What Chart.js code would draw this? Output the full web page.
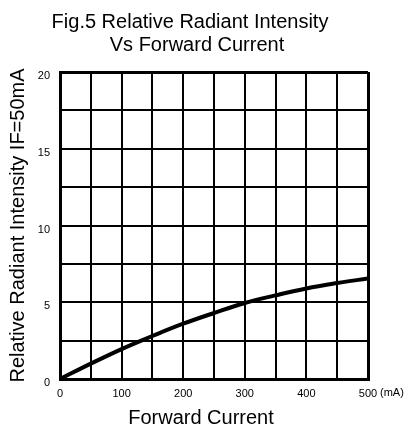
<!DOCTYPE html>
<html>
<head>
<meta charset="utf-8">
<script src="https://cdn.jsdelivr.net/npm/chart.js@4/dist/chart.umd.min.js"></script>
<style>
  html, body { margin: 0; padding: 0; background: #fff; }
  #wrap { width: 408px; height: 430px; }
</style>
</head>
<body>
<div id="wrap"><canvas id="chart"></canvas></div>
<script>
// values
const currentMA = [0, 50, 100, 150, 200, 250, 300, 350, 400, 450, 500];
const intensity = [0, 1.0, 1.95, 2.8, 3.6, 4.3, 4.95, 5.45, 5.9, 6.25, 6.55];
const xLabelEvery = 100;
const yLabelEvery = 5;

const FONT = "'Liberation Sans', Arial, sans-serif";

// titles and the unit label drawn as text on the canvas
const textPlugin = {
    id: "figText",
    afterDraw(chart) {
        const ctx = chart.ctx;
        const area = chart.chartArea;
        ctx.save();
        ctx.fillStyle = "#000";
        ctx.textAlign = "center";
        ctx.textBaseline = "alphabetic";
        ctx.font = "20px " + FONT;
        ctx.fillText("Fig.5 Relative Radiant Intensity", 190, 28);
        ctx.fillText("Vs Forward Current", 197, 51);
        ctx.fillText("Forward Current", 201, 424);
        ctx.font = "11px " + FONT;
        ctx.textAlign = "left";
        ctx.textBaseline = "top";
        ctx.fillText("(mA)", area.right + 12, area.bottom + 8);
        ctx.restore();
    }
};

const ctx = document.getElementById("chart").getContext("2d");
new Chart(ctx, {
    type: "line",
    data: {
        datasets: [{
            data: currentMA.map((x, i) => ({ x: x, y: intensity[i] })),
            borderColor: "#000",
            borderWidth: 4,
            pointRadius: 0,
            fill: false,
            tension: 0.4
        }]
    },
    options: {
        responsive: true,
        maintainAspectRatio: false,
        animation: false,
        layout: { padding: { top: 72, right: 40, left: 0, bottom: 0 } },
        plugins: { legend: { display: false }, tooltip: { enabled: false } },
        scales: {
            x: {
                type: "linear",
                min: 0,
                max: 500,
                afterFit: s => { s.height = 51; },
                grid: {
                    color: "#000",
                    lineWidth: c => (c.index === 0 || c.tick.value === 500) ? 3 : 2,
                    drawTicks: false
                },
                border: { color: "#000", width: 3 },
                ticks: {
                    stepSize: 50,
                    padding: 8,
                    color: "#000",
                    font: { family: FONT, size: 11 },
                    maxRotation: 0,
                    autoSkip: false,
                    callback: v => (v % xLabelEvery === 0 ? v : "")
                }
            },
            y: {
                min: 0,
                max: 20,
                afterFit: s => { s.width = 60; },
                grid: {
                    color: "#000",
                    lineWidth: c => (c.index === 0 || c.tick.value === 20) ? 3 : 2,
                    drawTicks: false
                },
                border: { color: "#000", width: 3 },
                ticks: {
                    stepSize: 2.5,
                    padding: 10,
                    labelOffset: 4,
                    color: "#000",
                    font: { family: FONT, size: 11 },
                    autoSkip: false,
                    callback: v => (v % yLabelEvery === 0 ? v : "")
                },
                title: {
                    display: true,
                    text: "Relative Radiant Intensity IF=50mA",
                    color: "#000",
                    font: { family: FONT, size: 20 },
                    padding: { top: 6, bottom: 0 }
                }
            }
        }
    },
    plugins: [textPlugin]
});
</script>
</body>
</html>
